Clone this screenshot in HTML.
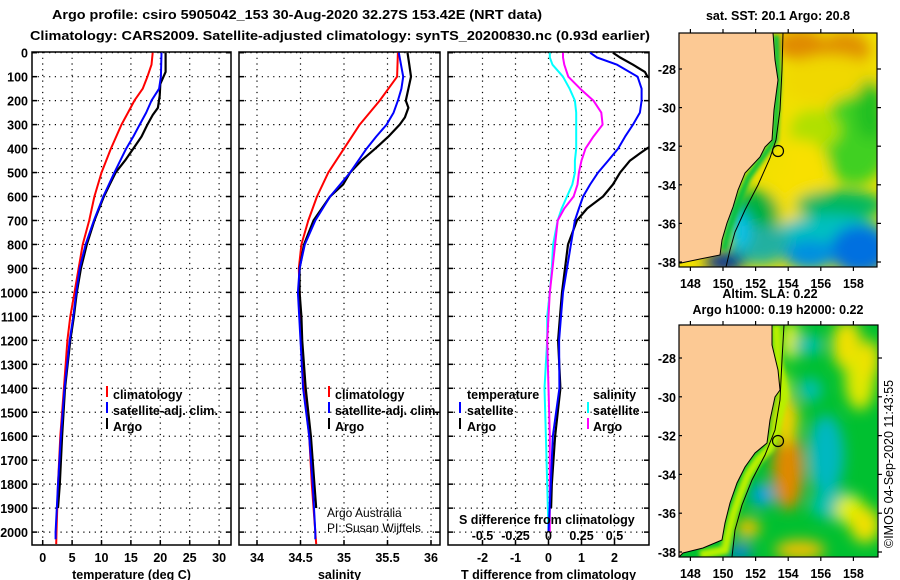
<!DOCTYPE html>
<html><head><meta charset="utf-8">
<style>
html,body{margin:0;padding:0;background:#fff;}
svg{display:block;font-family:"Liberation Sans",sans-serif;}
.t{font-size:12.5px;font-weight:bold;fill:#000;}
.lg{font-size:12.5px;font-weight:bold;fill:#000;}
.cr{font-size:12px;font-weight:normal;fill:#000;}
</style></head>
<body>
<svg id="fig" width="900" height="580" viewBox="0 0 900 580" xmlns="http://www.w3.org/2000/svg">
<text x="52" y="19" class="t" font-size="14" textLength="490" lengthAdjust="spacingAndGlyphs">Argo profile: csiro 5905042_153 30-Aug-2020 32.27S 153.42E (NRT data)</text>
<text x="30" y="40" class="t" font-size="14" textLength="620" lengthAdjust="spacingAndGlyphs">Climatology: CARS2009. Satellite-adjusted climatology: synTS_20200830.nc (0.93d earlier)</text>
<g id="panels"></g>
<g id="maps"></g>
<text transform="translate(893,548) rotate(-90)" font-size="12.5" fill="#000">©IMOS 04-Sep-2020 11:43:55</text>
</svg>
<script>
// ---------- data ----------
const depthT = [0,50,100,150,200,250,300,400,500,600,700,800,900,1000,1100,1200,1400,1600,1800,2000,2050];
const tempClim = [18.7,18.5,17.8,17.0,15.6,14.5,13.4,11.6,10.0,8.8,7.9,6.8,6.1,5.4,4.7,4.2,3.6,3.0,2.6,2.35,2.3];
const depthB = [0,100,150,200,250,300,350,400,500,600,700,800,900,1000,1100,1200,1400,1600,1800,2000,2030];
const tempSat = [20.2,20.1,19.8,18.5,17.6,16.5,15.4,14.2,12.2,10.3,8.7,7.3,6.3,5.7,5.2,4.6,3.7,3.1,2.6,2.2,2.2];
const depthA = [0,80,130,180,230,260,300,350,400,450,500,550,600,700,800,900,1000,1100,1200,1400,1600,1800,1900];
const tempArgo = [20.9,20.9,20.0,19.9,19.6,18.7,17.8,16.8,15.4,14.0,12.4,11.4,10.4,8.8,7.5,6.5,5.8,5.3,4.7,3.8,3.3,2.9,2.6];

const depthSC = [0,100,150,200,300,400,500,600,700,800,900,1000,1100,1200,1400,1600,1800,2000,2050];
const salClim = [35.62,35.61,35.51,35.41,35.18,35.0,34.82,34.69,34.59,34.51,34.48,34.49,34.5,34.51,34.54,34.6,34.63,34.67,34.68];
const depthSS = [0,100,150,200,250,300,350,400,500,600,700,800,900,1000,1200,1400,1600,1800,2000,2030];
const salSat = [35.63,35.68,35.66,35.62,35.57,35.49,35.37,35.26,35.07,34.84,34.67,34.55,34.49,34.47,34.5,34.53,34.6,34.64,34.67,34.67];
const depthSA = [0,50,100,150,200,230,270,300,350,400,450,500,550,600,700,800,900,1000,1100,1200,1400,1600,1800,1900];
const salArgo = [35.73,35.75,35.77,35.74,35.71,35.74,35.7,35.64,35.51,35.36,35.2,35.07,34.99,34.84,34.65,34.54,34.49,34.49,34.51,34.52,34.56,34.62,34.66,34.68];

const depthD = [0,20,50,100,150,200,250,300,350,400,450,500,550,600,650,700,800,900,1000,1100,1200,1400,1600,1800,2000];
const sDiffSat = [0.01,0.01,0.03,0.11,0.16,0.2,0.21,0.21,0.21,0.21,0.2,0.2,0.18,0.14,0.1,0.07,0.035,0.025,0.01,-0.01,-0.01,-0.03,-0.02,-0.01,0];
const sDiffArgo = [0.11,0.11,0.12,0.15,0.24,0.34,0.40,0.41,0.34,0.28,0.25,0.23,0.22,0.19,0.12,0.07,0.05,0.03,0.01,0,-0.01,0,0.01,0.01,0.01];
const tDiffSat = [1.26,1.47,2.08,2.7,2.82,2.82,2.77,2.56,2.32,2.11,1.81,1.5,1.26,1.05,0.92,0.8,0.68,0.56,0.44,0.38,0.32,0.33,0.13,0.07,0.0];
const depthDA = [0,20,50,80,100,150,200,250,300,350,400,420,450,500,550,600,650,700,800,900,1000,1100,1200,1400,1600,1800,1900];
const tDiffArgo = [1.95,2.17,2.56,2.92,3.0,3.6,3.9,4.0,3.9,3.6,2.98,2.77,2.47,2.17,1.95,1.65,1.17,0.86,0.59,0.5,0.41,0.35,0.29,0.36,0.2,0.1,0.08];

const depthTicks = [0,100,200,300,400,500,600,700,800,900,1000,1100,1200,1300,1400,1500,1600,1700,1800,1900,2000];
const tempTicks = [0,5,10,15,20,25,30];
const salTicks = [34,34.5,35,35.5,36];
const salTickLabels = ["34","34.5","35","35.5","36"];
const tdTicks = [-2,-1,0,1,2];
const sdTicks = [-0.5,-0.25,0,0.25,0.5];
const sdTickLabels = ["-0.5","-0.25","0","0.25","0.5"];
const latTicks = [-28,-30,-32,-34,-36,-38];
const lonTicks = [148,150,152,154,156,158];

// ---------- axes ----------
const TOP=52, BOT=545;
const yD = d => 52.7 + d*0.2397;
const xT = t => 42.7 + t*5.88;
const xS = s => 257 + (s-34)*87;
const xTD = v => 548.5 + v*33;
const xSD = v => 548.5 + v*132;

const NS="http://www.w3.org/2000/svg";
function mk(tag, attrs, parent){const e=document.createElementNS(NS,tag);for(const k in attrs)e.setAttribute(k,attrs[k]);parent.appendChild(e);return e;}
const panels=document.getElementById('panels');

const defs=mk('defs',{},document.getElementById('fig'));
function clip(id,x,y,w,h){const c=mk('clipPath',{id:id},defs);mk('rect',{x:x,y:y,width:w,height:h},c);}
clip('c1',32,TOP,199,BOT-TOP);clip('c2',239,TOP,201,BOT-TOP);clip('c3',448,TOP,201,BOT-TOP);

function panel(name,x0,x1,xs,ticks,labels,xlabel,cid){
  const g=mk('g',{},panels);
  
  
  ticks.forEach(v=>{const x=xs(v);const l=mk('line',{x1:x,x2:x,y1:TOP,y2:BOT,stroke:'#000','stroke-dasharray':'1.2,4.5','stroke-width':1.2},g);
    });
  depthTicks.forEach(d=>{const y=yD(d);const l=mk('line',{x1:x0,x2:x1,y1:y,y2:y,stroke:'#000','stroke-dasharray':'1.2,4.5','stroke-width':1.2},g);
    
    mk('line',{x1:x0,x2:x0+5,y1:y,y2:y,stroke:'#000','stroke-width':1.5},g);mk('line',{x1:x1-5,x2:x1,y1:y,y2:y,stroke:'#000','stroke-width':1.5},g);});
  ticks.forEach((v,i)=>{const x=xs(v);
    mk('line',{x1:x,x2:x,y1:BOT-5,y2:BOT,stroke:'#000','stroke-width':1.5},g);
    if(labels){const t=mk('text',{x:x,y:562,'text-anchor':'middle',class:'t'},g);t.textContent=labels[i];
      }});
  const r=mk('rect',{x:x0,y:TOP,width:x1-x0,height:BOT-TOP,fill:'none',stroke:'#000','stroke-width':1.5},g);
  
  const xl=mk('text',{x:(x0+x1)/2,y:579,'text-anchor':'middle',class:'t'},g);xl.textContent=xlabel;
  
  return g;
}
function line(g,name,xs,vals,depths,color,w,cid){
  const pts=vals.map((v,i)=>xs(v).toFixed(1)+','+yD(depths[i]).toFixed(1)).join(' ');
  const p=mk('polyline',{points:pts,fill:'none',stroke:color,'stroke-width':w,'clip-path':'url(#'+cid+')','stroke-linejoin':'round'},g);
  
  
}
function txt(g,name,x,y,s,extra,cls){const t=mk('text',Object.assign({x:x,y:y,class:cls||'lg'},extra||{}),g);t.textContent=s;
  return t;}
function mark(g,x,y,c){mk('rect',{x:x,y:y-9,width:2,height:11,fill:c},g);}

depthTicks.forEach(d=>{const t=mk('text',{x:28,y:yD(d)+5,'text-anchor':'end',class:'t'},panels);t.textContent=d;
  });

let g1=panel('temperature-panel',32,231,xT,tempTicks,tempTicks.map(String),'temperature (deg C)','c1');
line(g1,'temp-climatology-line',xT,tempClim,depthT,'#f00',2,'c1');
line(g1,'temp-argo-line',xT,tempArgo,depthA,'#000',2.2,'c1');
line(g1,'temp-satellite-line',xT,tempSat,depthB,'#00f',2,'c1');
mark(g1,106,395,'#f00');txt(g1,'legend-climatology',113,399,'climatology');
mark(g1,106,411,'#00f');txt(g1,'legend-satellite-adj',113,415,'satellite-adj. clim.',{textLength:105,lengthAdjust:'spacingAndGlyphs'});
mark(g1,106,427,'#000');txt(g1,'legend-argo',113,431,'Argo');

let g2=panel('salinity-panel',239,440,xS,salTicks,salTickLabels,'salinity','c2');
line(g2,'sal-climatology-line',xS,salClim,depthSC,'#f00',2,'c2');
line(g2,'sal-argo-line',xS,salArgo,depthSA,'#000',2.2,'c2');
line(g2,'sal-satellite-line',xS,salSat,depthSS,'#00f',2,'c2');
mark(g2,328,395,'#f00');txt(g2,'legend-climatology',335,399,'climatology');
mark(g2,328,411,'#00f');txt(g2,'legend-satellite-adj',335,415,'satellite-adj. clim.',{textLength:104,lengthAdjust:'spacingAndGlyphs'});
mark(g2,328,427,'#000');txt(g2,'legend-argo',335,431,'Argo');
txt(g2,'credit-argo-australia',327,517,'Argo Australia',{},'cr');
txt(g2,'credit-pi',327,532,'PI: Susan Wijffels',{},'cr');

let g3=panel('difference-panel',448,649,xTD,tdTicks,tdTicks.map(String),'T difference from climatology','c3');
line(g3,'sdiff-satellite-line',xSD,sDiffSat,depthD,'#0ff',2,'c3');
line(g3,'sdiff-argo-line',xSD,sDiffArgo,depthD,'#f0f',2,'c3');
line(g3,'tdiff-argo-line',xTD,tDiffArgo,depthDA,'#000',2.2,'c3');
line(g3,'tdiff-satellite-line',xTD,tDiffSat,depthD,'#00f',2,'c3');
txt(g3,'legend-temperature-header',467,399,'temperature');
mark(g3,459,411,'#00f');txt(g3,'legend-t-satellite',467,415,'satellite');
mark(g3,459,427,'#000');txt(g3,'legend-t-argo',467,431,'Argo');
txt(g3,'legend-salinity-header',593,399,'salinity');
mark(g3,587,411,'#0ff');txt(g3,'legend-s-satellite',593,415,'satellite');
mark(g3,587,427,'#f0f');txt(g3,'legend-s-argo',593,431,'Argo');
txt(g3,'s-diff-axis-title',459,524,'S difference from climatology');
sdTicks.forEach((v,i)=>{txt(g3,'s-diff-tick-label',xSD(v),540,sdTickLabels[i],{'text-anchor':'middle'});});

// ---------- maps ----------
const maps=document.getElementById('maps');
function mapFrame(name,x0,x1,y0,y1,lat0,latScale,land,blobs,base,circ,shelf,strip){
  const g=mk('g',{},maps);
  
  
  const id='m'+y0;
  clip(id,x0,y0,x1-x0,y1-y0);
  const f=mk('filter',{id:'b'+y0,x:'-50%',y:'-50%',width:'200%',height:'200%'},defs);
  mk('feGaussianBlur',{stdDeviation:7},f);
  const f2=mk('filter',{id:'s'+y0,x:'-50%',y:'-50%',width:'200%',height:'200%'},defs);
  mk('feGaussianBlur',{stdDeviation:2},f2);
  const inner=mk('g',{'clip-path':'url(#'+id+')'},g);
  mk('rect',{x:x0,y:y0,width:x1-x0,height:y1-y0,fill:base},inner);
  const bg=mk('g',{filter:'url(#b'+y0+')'},inner);
  blobs.forEach(b=>mk('ellipse',{cx:b[0],cy:b[1],rx:b[2],ry:b[3],fill:b[4]},bg));
  if(strip) mk('polyline',{points:strip[0],fill:'none',stroke:strip[1],'stroke-width':strip[2],filter:'url(#s'+y0+')'},inner);
  mk('polyline',{points:shelf,fill:'none',stroke:'#000','stroke-width':1},inner);
  const l=mk('polygon',{points:land,fill:'#fcc994',stroke:'#000','stroke-width':1},inner);
  
  const c=mk('circle',{cx:circ[0],cy:circ[1],r:5.5,fill:'none',stroke:'#000','stroke-width':1.2},g);
  
  mk('rect',{x:x0,y:y0,width:x1-x0,height:y1-y0,fill:'none',stroke:'#000','stroke-width':1.2},g);
  latTicks.forEach(la=>{const y=lat0+(-28-la)*latScale;
    mk('line',{x1:x1,x2:x1+4,y1:y,y2:y,stroke:'#000','stroke-width':1.2},g);
    mk('line',{x1:x0,x2:x0+3,y1:y,y2:y,stroke:'#000','stroke-width':1.2},g);
    const t=mk('text',{x:x0-3,y:y+5,'text-anchor':'end',class:'t'},g);t.textContent=la;
    });
  lonTicks.forEach(lo=>{const x=723+(lo-150)*16.3;
    mk('line',{x1:x,x2:x,y1:y0-4,y2:y0,stroke:'#000','stroke-width':1.2},g);
    mk('line',{x1:x,x2:x,y1:y1,y2:y1+4,stroke:'#000','stroke-width':1.2},g);
    const t=mk('text',{x:x,y:y1+21,'text-anchor':'middle',class:'t'},g);t.textContent=lo;
    });
  return g;
}
const land1="679,33 773,33 775,60 778,80 774,110 772,140 765,147 760,157 745,173 738,190 733,207 727,223 722,240 720,255 700,259 681,263 679,263";
const shelf1="783,33 782,70 780,110 776,140 770,158 758,185 745,210 735,232 730,250 726,267";
const blobs1=[
 [800,45,25,15,'#e08a00'],[845,50,25,18,'#e09000'],[830,80,50,25,'#f0d800'],
 [855,140,35,45,'#40d020'],[870,110,15,30,'#20c020'],[815,130,25,20,'#b0e000'],
 [800,170,30,30,'#f8e000'],[785,215,22,25,'#f8e000'],
 [840,205,45,15,'#00b860'],[830,235,55,20,'#00c0c0'],[860,250,30,25,'#0070e0'],
 [755,215,25,25,'#00b040'],[760,245,30,20,'#20b0a0'],[810,255,25,15,'#0090e0'],
 [725,262,20,10,'#002a9a'],[740,230,10,20,'#00c0f0'],[780,120,6,60,'#f0e000']];
const strip1=["776,35 778,80 775,140 762,158 748,178 740,198 734,215 728,232 724,250","#00c040",6];
mapFrame('sst-map',679,877,33,267,69,19.3,land1,blobs1,'#f0e000',[778,151],shelf1,strip1);
const land2="679,325 772,325 772,345 778,370 780,390 775,397 770,420 767,443 755,453 745,467 737,483 730,503 725,523 722,540 703,548 683,553 679,557";
const shelf2="784,325 782,360 780,400 775,430 765,455 752,480 742,505 735,530 732,557";
const blobs2=[
 [790,340,10,20,'#e0f000'],[783,410,8,40,'#e8f000'],
 [788,470,16,40,'#e08800'],[785,420,14,25,'#f0d000'],
 [826,470,10,30,'#0050e0'],[826,455,18,40,'#00b8c0'],
 [762,495,12,12,'#00a0e0'],[808,345,15,10,'#00c0b0'],[810,390,12,12,'#00c0b0'],
 [847,345,15,25,'#f0e000'],[860,380,15,30,'#e0e800'],[870,360,10,20,'#f0e000'],
 [835,505,25,15,'#00c0b0'],[850,510,15,15,'#e0f000'],[865,525,15,18,'#f0e000'],
 [800,550,25,10,'#f0c000'],[748,528,12,10,'#f0c000'],[740,552,12,8,'#0080e0']];
const strip2=["776,325 778,360 784,395 776,430 770,448 758,460 748,475 740,495 733,515 728,535 725,550 700,555","#b8f000",9];
mapFrame('sla-map',679,878,325,557,358,19.4,land2,blobs2,'#00c030',[778,441],shelf2,strip2);

txt(maps,'sst-map-title',778,20,'sat. SST: 20.1 Argo: 20.8',{'text-anchor':'middle'});
txt(maps,'sla-map-title',770,298,'Altim. SLA: 0.22',{'text-anchor':'middle'});
txt(maps,'argo-height-label',778,314,'Argo h1000: 0.19 h2000: 0.22',{'text-anchor':'middle'});
</script>
</body></html>
